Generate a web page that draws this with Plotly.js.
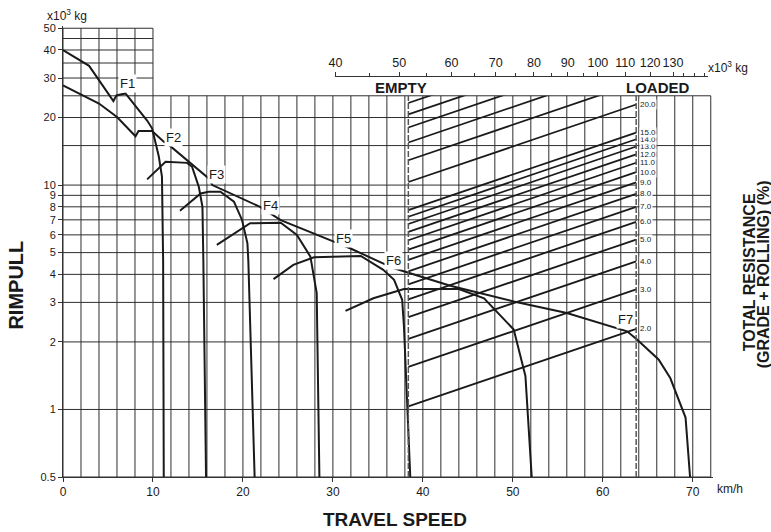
<!DOCTYPE html>
<html><head><meta charset="utf-8">
<script src="https://cdn.plot.ly/plotly-3.0.1.min.js"></script>
<style>html,body{margin:0;padding:0;background:#fff;}</style>
</head><body>
<div id="chart" style="width:771px;height:532px;"></div>
<script>
// ---------------- DATA ----------------
const speedTicks = [0, 10, 20, 30, 40, 50, 60, 70];
const rimpullTicks = [0.5, 1, 2, 3, 4, 5, 6, 7, 8, 9, 10, 20, 30, 40, 50];
const rimpullTickText = ['0.5', '1', '2', '3', '4', '5', '6', '7', '8', '9', '10', '20', '30', '40', '50'];
const weightTicks = [40, 50, 60, 70, 80, 90, 100, 110, 120, 130];
const weightTickText = ['40', '50', '60', '70', '80', '90', '100', '110', '120', '130'];
const weightMinorTicks = [45, 55, 65, 75, 85, 95, 135, 140, 145];

// grid rows (rimpull, x10^3 kg)
const gridRowsFull = [0.5, 1, 2, 3, 4, 5, 6, 7, 8, 9, 15, 25];
const gridRowsToLoaded = [10, 20];
const gridRowsBox = [30, 35, 40, 45, 50];

// F1 (torque converter range)
const f1Speed = [0, 2.9, 5.6, 5.94, 6.94, 9.35, 9.9, 10.65, 11.0, 11.13, 11.2];
const f1Pull  = [40, 34, 23.7, 25.1, 25.6, 19.4, 17.9, 13.4, 10.9, 4.6, 0.5];
const f2Speed = [9.35, 11.4, 13.8, 14.35, 15.1, 15.5, 15.6, 15.9];
const f2Pull  = [10.6, 12.7, 12.56, 12.06, 9.8, 8.0, 4.6, 0.5];
const f3Speed = [13.0, 15.3, 16.2, 17.5, 19.0, 19.9, 20.5, 20.6, 21.3];
const f3Pull  = [7.69, 9.18, 9.34, 9.34, 8.44, 6.99, 5.5, 4.6, 0.5];
const f4Speed = [17.1, 20.8, 24.2, 26.0, 27.5, 28.2, 28.5];
const f4Pull  = [5.41, 6.76, 6.79, 6.0, 4.8, 3.3, 0.5];
const f5Speed = [23.4, 25.6, 27.9, 33.1, 35.6, 36.8, 37.7, 37.9, 38.6];
const f5Pull  = [3.81, 4.41, 4.77, 4.83, 4.19, 3.78, 3.08, 2.34, 0.5];
const f6Speed = [31.4, 34.5, 37.9, 44.0, 46.8, 50.1, 51.4, 52.1];
const f6Pull  = [2.75, 3.13, 3.44, 3.44, 3.13, 2.27, 1.41, 0.5];
// maximum rimpull line running through F1 ... F7
const envSpeed = [0, 4, 6, 8.06, 8.4, 9.9, 11.2, 11.6, 16.2, 16.6, 21.9, 24.2, 30.1, 31.9, 35.5, 36.8, 43.05, 50.1, 56.0, 62.7, 63.8, 66.2, 67.5, 69.2, 69.7];
const envPull  = [27.8, 23.1, 20.1, 16.5, 17.4, 17.4, 15.6, 15.3, 10.7, 10.0, 8.0, 6.98, 5.6, 5.23, 4.49, 4.26, 3.56, 3.03, 2.69, 2.23, 2.05, 1.67, 1.38, 0.92, 0.5];

// gear labels
const gearNames = ['F1', 'F2', 'F3', 'F4', 'F5', 'F6', 'F7'];
const gearLabelSpeed = [7.2, 12.3, 17.06, 23.06, 31.2, 36.7, 62.5];
const gearLabelPull  = [28.5, 16.3, 11.2, 8.07, 5.8, 4.61, 2.51];

// total resistance (%) lines between EMPTY and LOADED weight (x10^3 kg)
const resistancePct = [2, 3, 4, 5, 6, 7, 8, 9, 10, 11, 12, 13, 14, 15, 20, 25, 30, 35, 40, 45];
const resistanceLabelPct = [2, 3, 4, 5, 6, 7, 8, 9, 10, 11, 12, 13, 14, 15, 20];
const emptyWeight = 51.6;
const loadedWeight = 114.3;

// ---------------- LAYOUT GEOMETRY ----------------
const FONT = 'Liberation Sans, Arial, Helvetica, sans-serif';
const INK = '#1a1a1a';
const GRID = '#2e2e2e';
const pxPerKmh = 9, pxPerDecade = 224.5;
const xLeft = 62.5, yBottom = 477;
const xMax = 72.25;
const yMin = Math.log10(0.5), yMax = Math.log10(50) + 0.01;
const plotW = xMax * pxPerKmh;
const plotH = (yMax - yMin) * pxPerDecade;
const mT = yBottom - plotH;
const mR = 771 - xLeft - plotW;
const px2paperX = p => (p - xLeft) / plotW;
const px2paperY = p => (yBottom - p) / plotH;
const y25frac = (Math.log10(25) - yMin) / (yMax - yMin);
const wMin = 40, wMax = 147;
const wPx0 = 335, wPx1 = 708;
// loaded weight position expressed on the speed axis (through the weight axis scale)
const loadedPx = wPx0 + (Math.log10(loadedWeight) - Math.log10(wMin)) / (Math.log10(wMax) - Math.log10(wMin)) * (wPx1 - wPx0);
const loadedSpeed = (loadedPx - xLeft) / pxPerKmh;

// ---------------- TRACES ----------------
const traces = [];
const gx = [], gy = [];
for (let s = 0; s <= 72; s += 2) { gx.push(s, s, null); gy.push(0.5, s <= 10 ? 50 : 25, null); }
gridRowsFull.forEach(v => { gx.push(0, 72, null); gy.push(v, v, null); });
gridRowsToLoaded.forEach(v => { gx.push(0, loadedSpeed, null); gy.push(v, v, null); });
gridRowsBox.forEach(v => { gx.push(0, 10, null); gy.push(v, v, null); });
traces.push({x: gx, y: gy, mode: 'lines', line: {color: GRID, width: 1}, hoverinfo: 'skip', xaxis: 'x', yaxis: 'y'});

function curve(xs, ys) {
  traces.push({x: xs, y: ys, mode: 'lines', line: {color: INK, width: 2}, hoverinfo: 'skip', xaxis: 'x', yaxis: 'y'});
}
curve(envSpeed, envPull);
curve(f1Speed, f1Pull);
curve(f2Speed, f2Pull);
curve(f3Speed, f3Pull);
curve(f4Speed, f4Pull);
curve(f5Speed, f5Pull);
curve(f6Speed, f6Pull);

resistancePct.forEach(r => {
  traces.push({x: [emptyWeight, loadedWeight], y: [r * emptyWeight / 100, r * loadedWeight / 100],
    mode: 'lines', line: {color: INK, width: 1.8}, hoverinfo: 'skip', xaxis: 'x2', yaxis: 'y2'});
});
[emptyWeight, loadedWeight].forEach(w => {
  traces.push({x: [w, w], y: [0.5, 25], mode: 'lines', line: {color: '#555', width: 1.5, dash: '6px,2px'},
    hoverinfo: 'skip', xaxis: 'x2', yaxis: 'y2'});
});

// ---------------- ANNOTATIONS ----------------
const ann = [];
gearNames.forEach((n, i) => {
  ann.push({xref: 'x', yref: 'y', x: gearLabelSpeed[i], y: Math.log10(gearLabelPull[i]), text: n,
    xanchor: 'center', yanchor: 'middle',
    showarrow: false, bgcolor: '#fff', borderpad: 1, font: {family: FONT, size: 13, color: INK}});
});
resistanceLabelPct.forEach(r => {
  ann.push({xref: 'x2', yref: 'y2', x: Math.log10(loadedWeight), y: Math.log10(r * loadedWeight / 100),
    text: r.toFixed(1), showarrow: false, xanchor: 'left', yanchor: 'middle', xshift: 3, bgcolor: '#fff', borderpad: 0,
    font: {family: FONT, size: 8, color: INK}});
});
function paperText(px, py, text, size, angle) {
  ann.push({xref: 'paper', yref: 'paper', x: px2paperX(px), y: px2paperY(py), xanchor: 'center', yanchor: 'middle',
    text: text, textangle: angle || 0, showarrow: false, font: {family: FONT, size: size, color: INK}});
}
ann.push({xref: 'x2', yref: 'paper', x: Math.log10(emptyWeight), y: px2paperY(87), xshift: -7,
  xanchor: 'center', yanchor: 'middle',
  text: '<b>EMPTY</b>', showarrow: false, font: {family: FONT, size: 15, color: INK}});
ann.push({xref: 'x2', yref: 'paper', x: Math.log10(loadedWeight), y: px2paperY(87), xshift: 22,
  xanchor: 'center', yanchor: 'middle',
  text: '<b>LOADED</b>', showarrow: false, font: {family: FONT, size: 15, color: INK}});
paperText(16, 285, '<b>RIMPULL</b>', 20, -90);
paperText(395, 520, '<b>TRAVEL SPEED</b>', 19, 0);
paperText(749, 272, '<b>TOTAL RESISTANCE</b>', 16, -90);
paperText(763, 274, '<b>(GRADE + ROLLING) (%)</b>', 16, -90);
paperText(730, 489, 'km/h', 12, 0);
paperText(67, 15, 'x10<sup>3</sup> kg', 12, 0);
paperText(728, 67, 'x10<sup>3</sup> kg', 12, 0);

const layout = {
  width: 771, height: 532,
  margin: {l: xLeft, r: mR, t: mT, b: 532 - yBottom, pad: 0},
  paper_bgcolor: '#fff', plot_bgcolor: 'rgba(0,0,0,0)',
  showlegend: false,
  font: {family: FONT, color: INK},
  xaxis: {range: [0, xMax], tickvals: speedTicks, ticks: 'outside', ticklen: 4, tickcolor: '#333',
    showline: true, linecolor: '#333', linewidth: 1, showgrid: false, zeroline: false, tickangle: 0,
    tickfont: {family: FONT, size: 12, color: INK}, fixedrange: true},
  yaxis: {type: 'log', range: [yMin, yMax], tickvals: rimpullTicks, ticktext: rimpullTickText,
    ticks: 'outside', ticklen: 4, tickcolor: '#333', showline: true, linecolor: '#333', linewidth: 1,
    showgrid: false, zeroline: false, tickfont: {family: FONT, size: 11, color: INK}, fixedrange: true},
  xaxis2: {type: 'log', range: [Math.log10(wMin), Math.log10(wMax)],
    domain: [px2paperX(wPx0), px2paperX(wPx1)], anchor: 'free', position: px2paperY(76), side: 'top',
    tickmode: 'array', tickvals: weightTicks, ticktext: weightTickText, ticks: 'outside', ticklen: 4, tickcolor: '#333',
    minor: {tickmode: 'array', tickvals: weightMinorTicks, ticks: 'outside', ticklen: 3, tickcolor: '#333', showgrid: false},
    showline: true, linecolor: '#333', linewidth: 1, showgrid: false, zeroline: false, tickangle: 0,
    tickfont: {family: FONT, size: 12.5, color: INK}, fixedrange: true},
  yaxis2: {type: 'log', range: [yMin, Math.log10(25)], domain: [0, y25frac], anchor: 'x2',
    visible: false, showgrid: false, zeroline: false, fixedrange: true},
  annotations: ann
};

Plotly.newPlot('chart', traces, layout, {displayModeBar: false, staticPlot: true});
</script>
</body></html>
